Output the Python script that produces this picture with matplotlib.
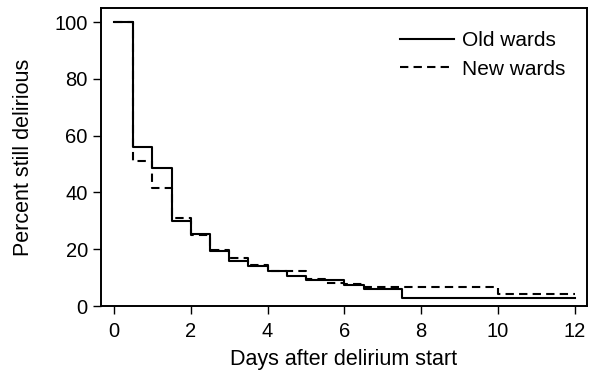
import matplotlib
matplotlib.use("Agg")
import matplotlib.pyplot as plt

plt.rcParams['font.family'] = ['Liberation Sans', 'DejaVu Sans']

# Old wards (solid) step function: change times and survival values
old_days = [0, 0.5, 1.0, 1.5, 2.0, 2.5, 3.0, 3.5, 4.0, 4.5, 5.0, 6.0, 6.5, 7.5, 12.0]
old_pct = [100, 56, 48.5, 30, 25.5, 19.3, 16.0, 14.0, 12.4, 10.6, 9.2, 7.5, 6.0, 2.8, 2.8]

# New wards (dashed)
new_days = [0, 0.5, 1.0, 1.5, 2.0, 2.5, 3.0, 3.5, 4.0, 5.0, 5.5, 6.0, 6.5, 10.0, 12.0]
new_pct = [100, 51, 41.5, 31, 25.0, 19.6, 16.8, 14.5, 12.2, 9.4, 8.2, 7.6, 6.7, 4.2, 4.2]

x_ticks = [0, 2, 4, 6, 8, 10, 12]
y_ticks = [0, 20, 40, 60, 80, 100]

fig = plt.figure(figsize=(5.89, 3.77), dpi=100)
ax = fig.add_axes([0.1715, 0.1883, 0.8251, 0.7905])

ax.step(old_days, old_pct, where='post', color='black', lw=1.5, label='Old wards')
ax.step(new_days, new_pct, where='post', color='black', lw=1.5,
        linestyle=(0, (4, 2.5)), label='New wards')

ax.set_xlim(-0.34, 12.32)
ax.set_ylim(0, 105)
ax.set_xticks(x_ticks)
ax.set_yticks(y_ticks)
ax.tick_params(direction='out', length=5.5, width=1.0, labelsize=14.5, colors='black')
ax.tick_params(axis='x', pad=6)
ax.tick_params(axis='y', pad=4)
for s in ax.spines.values():
    s.set_linewidth(1.4)
    s.set_color('black')

ax.set_xlabel('Days after delirium start', fontsize=15.5, labelpad=6)
ax.set_ylabel('Percent still delirious', fontsize=15.5, labelpad=15)

leg = ax.legend(loc='upper right', bbox_to_anchor=(0.995, 0.985), frameon=False,
                fontsize=15, handlelength=2.6, handletextpad=0.4, labelspacing=0.45)

fig.savefig('out.png', dpi=100)
